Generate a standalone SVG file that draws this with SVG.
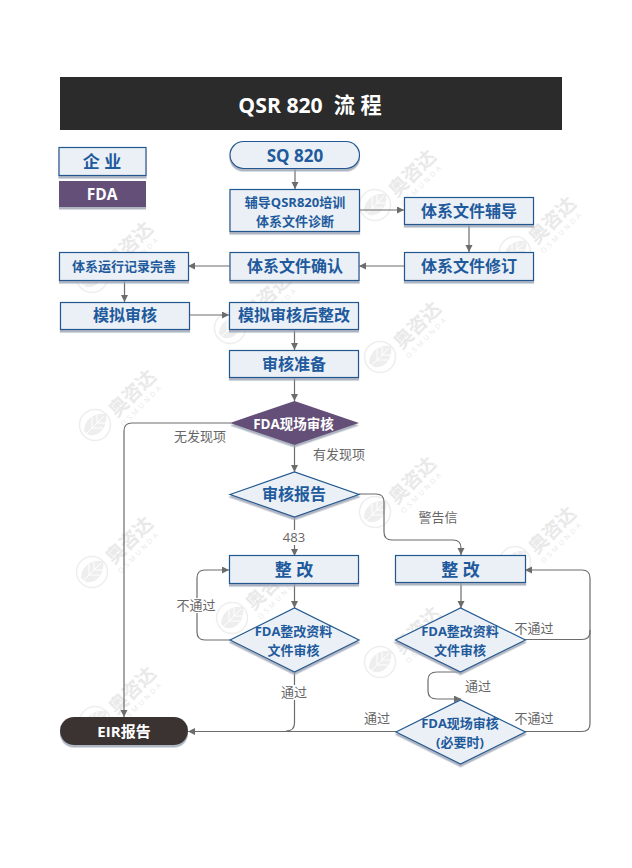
<svg xmlns="http://www.w3.org/2000/svg" xmlns:xlink="http://www.w3.org/1999/xlink" width="632" height="868" viewBox="0 0 632 868">
<style>
text{font-family:"Open Sans","Noto Sans CJK SC",sans-serif;text-anchor:middle;dominant-baseline:central}
.b{fill:#eaf0f6;stroke:#22588f;stroke-width:1.2;filter:url(#sh)}
.t16{font-size:16px;font-weight:700;fill:#1f5a9c}
.t17{font-size:17px;font-weight:700;fill:#1f5a9c}
.t13{font-size:13px;font-weight:700;fill:#1f5a9c}
.w{fill:#fff;font-weight:700}
.l{font-size:13px;fill:#666}
.c{fill:none;stroke:#6c6c6c;stroke-width:1.2}
.a{marker-end:url(#arr)}
.wm text{fill:#e9e9e9}
.wm1{font-size:19px;font-weight:700}
.wm2{font-size:7px;letter-spacing:3px}
</style>
<defs>
<filter id="sh" x="-5%" y="-10%" width="110%" height="130%"><feDropShadow dx="0" dy="2.500" stdDeviation="0.4" flood-color="#9aa3b3" flood-opacity="0.8"/></filter>
<marker id="arr" markerUnits="userSpaceOnUse" markerWidth="8" markerHeight="8" refX="7" refY="3.5" orient="auto"><path d="M0,0L7,3.5L0,7Z" fill="#6c6c6c"/></marker>
<g id="wmk" class="wm">
<circle r="15.500" fill="none" stroke="#eeeeee" stroke-width="1.5"/>
<path d="M-11,6C-11,-6 0,-13 11,-11C13,1 5,12 -6,10Z" fill="#eeeeee"/>
<path d="M-8,8L9,-9M-3,3L-3,-8M2,-2L2,-10M-3,3L8,3M2,-2L11,-2" stroke="#fff" stroke-width="1" fill="none"/>
<text class="wm1" transform="translate(37,-32) rotate(-45)">奥咨达</text>
<text class="wm2" transform="translate(47,-20) rotate(-45)">OSMUNDA</text>
</g>
</defs>
<rect width="632" height="868" fill="#fff"/>
<g id="watermarks">
<use xlink:href="#wmk" x="375" y="205"/><use xlink:href="#wmk" x="515" y="252"/>
<use xlink:href="#wmk" x="92" y="277"/><use xlink:href="#wmk" x="230" y="328"/>
<use xlink:href="#wmk" x="380" y="357"/><use xlink:href="#wmk" x="95" y="425"/>
<use xlink:href="#wmk" x="375" y="512"/><use xlink:href="#wmk" x="92" y="572"/>
<use xlink:href="#wmk" x="515" y="562"/><use xlink:href="#wmk" x="232" y="618"/>
<use xlink:href="#wmk" x="380" y="662"/><use xlink:href="#wmk" x="95" y="722"/>
</g>
<g id="connectors">
<path class="c a" d="M295,169V189"/>
<path class="c a" d="M360,210H404"/>
<path class="c a" d="M469,224V252"/>
<path class="c a" d="M404,266H359"/>
<path class="c a" d="M230,266H188"/>
<path class="c a" d="M124.500,280V302"/>
<path class="c a" d="M189,315H229"/>
<path class="c a" d="M294.500,329V350"/>
<path class="c a" d="M294.500,377V401"/>
<path class="c a" d="M294.500,445V472"/>
<path class="c a" d="M231,423H132Q124,423 124,431V717"/>
<path class="c a" d="M294.500,517V556"/>
<path class="c a" d="M359,494H376Q384,494 384,502V532Q384,540 392,540H453Q461,540 461,548V555"/>
<path class="c a" d="M294.500,584V608"/>
<path class="c a" d="M230,640H205Q197,640 197,632V578Q197,570 205,570H229"/>
<path class="c" d="M294.500,672V723Q294.500,731 286,731"/>
<path class="c a" d="M396,731.500H188"/>
<path class="c a" d="M461,582V608"/>
<path class="c a" d="M525,639.500H582Q590,639.500 590,631.500V578Q590,570 582,570H525"/>
<path class="c a" d="M461,672H437Q428,672 428,680V691Q428,699 437,699H461"/>
<path class="c" d="M525,731.500H582Q590,731.500 590,723.500V630"/>
</g>
<g id="labels">
<text class="l" x="200" y="436">无发现项</text>
<text class="l" x="339" y="454">有发现项</text>
<rect x="281" y="530" width="27" height="15" fill="#fff"/><text class="l" x="294" y="537">483</text>
<text class="l" x="438" y="517">警告信</text>
<rect x="177" y="598" width="40" height="15" fill="#fff"/><text class="l" x="196" y="605">不通过</text>
<rect x="280" y="685" width="28" height="15" fill="#fff"/><text class="l" x="294" y="692">通过</text>
<text class="l" x="377" y="718">通过</text>
<text class="l" x="534" y="628">不通过</text>
<text class="l" x="478" y="686">通过</text>
<text class="l" x="534" y="718">不通过</text>
</g>
<g id="title"><rect x="60" y="77" width="502" height="53" fill="#2b2b2b"/><text class="w" x="310" y="104" font-size="21.200" style="white-space:pre">QSR 820  流 程</text></g>
<g id="legend-ent"><rect class="b" x="59" y="147.500" width="87" height="28"/><text class="t17" x="102" y="161">企 业</text></g>
<g id="legend-fda"><rect x="59" y="181" width="87" height="26" fill="#644f78" filter="url(#sh)"/><text class="w" x="102" y="194" font-size="15.500">FDA</text></g>
<g id="n-sq"><rect class="b" x="230" y="141.500" width="129.500" height="27" rx="13.500"/><text class="t17" x="295" y="155">SQ 820</text></g>
<g id="n-train"><rect class="b" x="230" y="189.500" width="129.500" height="42"/><text class="t13" x="295" y="202">辅导QSR820培训</text><text class="t13" x="295" y="221">体系文件诊断</text></g>
<g id="n-fd"><rect class="b" x="404.500" y="197.500" width="129" height="27"/><text class="t16" x="469" y="211">体系文件辅导</text></g>
<g id="n-rev"><rect class="b" x="404.500" y="252.500" width="129" height="28"/><text class="t16" x="469" y="266">体系文件修订</text></g>
<g id="n-conf"><rect class="b" x="230" y="252.500" width="129" height="28"/><text class="t16" x="295" y="266">体系文件确认</text></g>
<g id="n-run"><rect class="b" x="59.500" y="252.500" width="129" height="28"/><text class="t13" x="124" y="266">体系运行记录完善</text></g>
<g id="n-mock"><rect class="b" x="60.500" y="302.500" width="129" height="27"/><text class="t16" x="125" y="315">模拟审核</text></g>
<g id="n-fix"><rect class="b" x="229.500" y="302.500" width="129" height="27"/><text class="t16" x="294" y="315">模拟审核后整改</text></g>
<g id="n-prep"><rect class="b" x="229.500" y="350.500" width="129" height="27"/><text class="t16" x="294" y="364">审核准备</text></g>
<g id="d-audit"><path d="M230,423L294.500,401L359,423L294.500,445Z" fill="#644f78" filter="url(#sh)"/><text class="w" x="293.500" y="424" font-size="13.500">FDA现场审核</text></g>
<g id="d-report"><path class="b" d="M230,494.500L294.500,472L359,494.500L294.500,517Z"/><text class="t16" x="294" y="494">审核报告</text></g>
<g id="n-zgl"><rect class="b" x="229.500" y="555.500" width="129" height="28"/><text class="t17" x="294" y="569">整 改</text></g>
<g id="n-zgr"><rect class="b" x="395.500" y="555.500" width="130" height="27"/><text class="t17" x="460.500" y="569">整 改</text></g>
<g id="d-docl"><path class="b" d="M230,640L294.500,608L359,640L294.500,672Z"/><text class="t13" x="293.500" y="631" font-size="13.500">FDA整改资料</text><text class="t13" x="293.500" y="650">文件审核</text></g>
<g id="d-docr"><path class="b" d="M395.500,640L460.500,608L525.500,640L460.500,672Z"/><text class="t13" x="460" y="631">FDA整改资料</text><text class="t13" x="460" y="650">文件审核</text></g>
<g id="d-site"><path class="b" d="M396,732L460.500,700L525.500,732L460.500,764Z"/><text class="t13" x="460" y="723">FDA现场审核</text><text class="t13" x="460" y="742">(必要时)</text></g>
<g id="n-eir"><rect x="60" y="717" width="128" height="28" rx="14" fill="#3b3333" filter="url(#sh)"/><text class="w" x="124" y="731" font-size="15">EIR报告</text></g>
</svg>
